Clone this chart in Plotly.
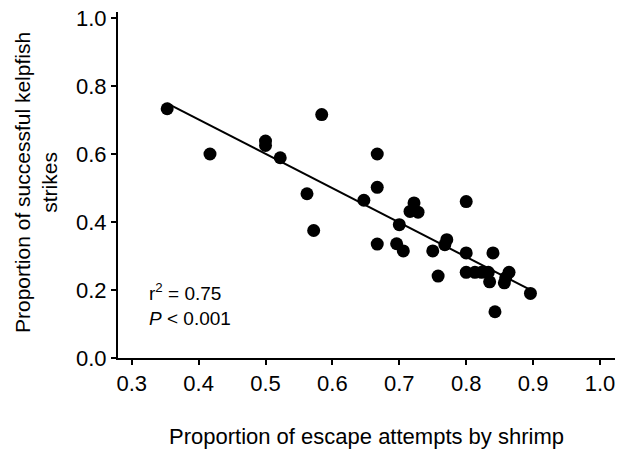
import numpy as np
import plotly.graph_objects as go

escape = [0.353, 0.417, 0.500, 0.500, 0.522, 0.562, 0.572, 0.584, 0.647, 0.667,
          0.667, 0.667, 0.696, 0.700, 0.706, 0.716, 0.722, 0.728, 0.750, 0.758,
          0.768, 0.771, 0.800, 0.800, 0.800, 0.813, 0.823, 0.833, 0.835, 0.840,
          0.843, 0.857, 0.859, 0.864, 0.896]
success = [0.733, 0.600, 0.638, 0.625, 0.589, 0.483, 0.375, 0.716, 0.464, 0.600,
           0.502, 0.335, 0.336, 0.392, 0.315, 0.431, 0.456, 0.429, 0.315, 0.241,
           0.333, 0.348, 0.460, 0.309, 0.252, 0.252, 0.252, 0.252, 0.224, 0.309,
           0.136, 0.221, 0.236, 0.252, 0.190]

x_ticks = [0.3, 0.4, 0.5, 0.6, 0.7, 0.8, 0.9, 1.0]
y_ticks = [0.0, 0.2, 0.4, 0.6, 0.8, 1.0]
x_title = "Proportion of escape attempts by shrimp"
y_title = "Proportion of successful kelpfish<br>strikes"
stats_text = "r<sup>2</sup> = 0.75<br><i>P</i> < 0.001"

slope, intercept = np.polyfit(escape, success, 1)
fit_x = np.array([min(escape), max(escape)])
fit_y = slope * fit_x + intercept

FONT = "Liberation Sans, Arial, sans-serif"

fig = go.Figure()
fig.add_trace(go.Scatter(x=fit_x, y=fit_y, mode="lines",
                         line=dict(color="black", width=2), showlegend=False,
                         hoverinfo="skip"))
fig.add_trace(go.Scatter(x=escape, y=success, mode="markers",
                         marker=dict(color="black", size=13), showlegend=False))

fig.add_annotation(x=0.323, y=0.157, xref="x", yref="y", text=stats_text,
                   showarrow=False, xanchor="left", yanchor="middle", align="left",
                   font=dict(family=FONT, size=19, color="black"))

# axis titles as annotations for precise placement
fig.add_annotation(x=0.5, y=0, xref="paper", yref="paper", text=x_title,
                   showarrow=False, xanchor="center", yanchor="middle", yshift=-78,
                   font=dict(family=FONT, size=22, color="black"))
fig.add_annotation(x=0, y=0.5, xref="paper", yref="paper", text=y_title,
                   showarrow=False, textangle=-90, xanchor="center", yanchor="middle",
                   xshift=-82, yshift=2, align="center",
                   font=dict(family=FONT, size=21, color="black"))

axis_common = dict(showline=True, linecolor="black", linewidth=2, ticks="outside",
                   ticklen=5, tickwidth=2, tickcolor="black", showgrid=False,
                   zeroline=False, automargin=False, ticklabeloverflow="allow",
                   tickfont=dict(family=FONT, size=22, color="black"))

fig.update_xaxes(range=[0.2795, 1.0224], tickvals=x_ticks,
                 ticktext=[f"{v:.1f}" for v in x_ticks], **axis_common)
fig.update_yaxes(range=[0, 1.0176], tickvals=y_ticks,
                 ticktext=[f"{v:.1f}" for v in y_ticks], **axis_common)

fig.update_layout(width=617, height=450, margin=dict(l=118, r=2, t=12, b=92),
                  plot_bgcolor="white", paper_bgcolor="white",
                  font=dict(family=FONT, color="black"))

fig.write_html("out.html", config={"displayModeBar": False},
               post_script="document.body.style.margin='0';document.body.style.overflow='hidden';")
